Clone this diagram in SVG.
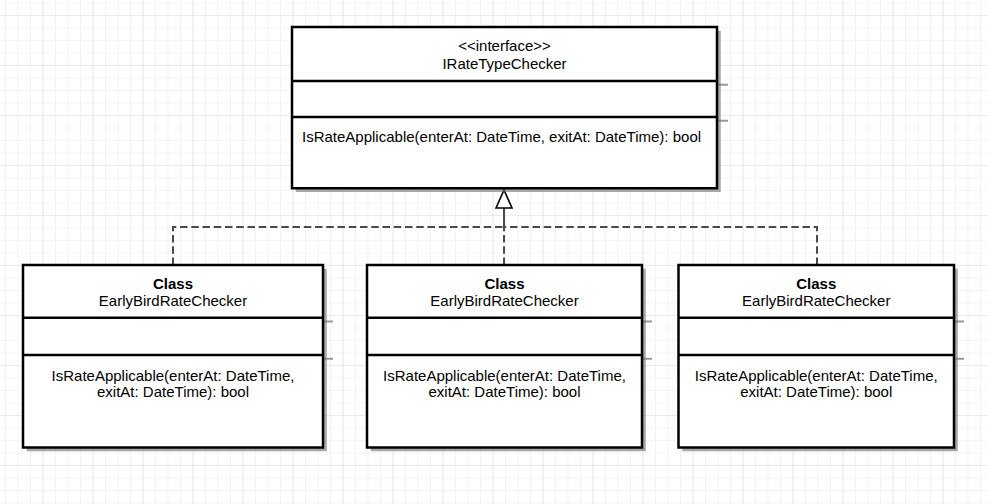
<svg xmlns="http://www.w3.org/2000/svg" width="988" height="504" viewBox="0 0 988 504">
  <defs>
    <pattern id="gridMinor" x="5" y="2.5" width="12.5" height="12.5" patternUnits="userSpaceOnUse">
      <path d="M0 0H12.5M0 0V12.5" fill="none" stroke="#ebe9fb" stroke-width="1.2"/>
    </pattern>
    <pattern id="gridMajor" x="42.5" y="15" width="50" height="50" patternUnits="userSpaceOnUse">
      <path d="M0 0H50M0 0V50" fill="none" stroke="#e1defa" stroke-width="1.2"/>
    </pattern>
    <filter id="soft" x="-5%" y="-5%" width="110%" height="110%">
      <feGaussianBlur stdDeviation="0.7"/>
    </filter>
    <marker id="realize" viewBox="0 0 20 18" refX="19" refY="9" markerWidth="20" markerHeight="18" markerUnits="userSpaceOnUse" orient="auto">
      <path d="M1 1L19 9L1 17Z" fill="#ffffff" stroke="#000000" stroke-width="1.6"/>
    </marker>
  </defs>
  <style>
    .box { fill: #ffffff; stroke: #000000; stroke-width: 2.5; }
    .div { stroke: #000000; stroke-width: 2.5; }
    .shadow { fill: #6e6e6e; opacity: 0.6; }
    .shline { stroke: #6e6e6e; stroke-width: 2; opacity: 0.7; }
    .t { font-family: "Liberation Sans", Arial, sans-serif; font-size: 15px; fill: #000000; }
    .c { text-anchor: middle; }
    .b { font-weight: bold; }
    .edge { fill: none; stroke: #4a4a4a; stroke-width: 2; stroke-dasharray: 7.5 3.75; }
  </style>

  <!-- background grid -->
  <rect width="988" height="504" fill="#ffffff"/>
  <rect width="988" height="504" fill="url(#gridMinor)"/>
  <rect width="988" height="504" fill="url(#gridMajor)"/>

  <!-- realization connectors -->
  <g id="connectors">
    <path class="edge" d="M173 265V227H504V190"/>
    <path class="edge" d="M504 265V190"/>
    <path class="edge" d="M817 265V227H504V190"/>
    <path d="M504 206V190" fill="none" stroke="#2a2a2a" stroke-width="2" marker-end="url(#realize)"/>
  </g>

  <!-- interface -->
  <g id="IRateTypeChecker">
    <g filter="url(#soft)">
      <rect class="shadow" x="295.75" y="30.75" width="425" height="161.25"/>
      <line class="shline" x1="717" y1="84.75" x2="728" y2="84.75"/>
      <line class="shline" x1="717" y1="120.75" x2="728" y2="120.75"/>
    </g>
    <rect class="box" x="292" y="27" width="425" height="161.25"/>
    <line class="div" x1="292" y1="81" x2="717" y2="81"/>
    <line class="div" x1="292" y1="117" x2="717" y2="117"/>
    <text class="t c" x="504.5" y="51">&lt;&lt;interface&gt;&gt;</text>
    <text class="t c" x="504.5" y="68.5">IRateTypeChecker</text>
    <text class="t" x="302" y="142">IsRateApplicable(enterAt: DateTime, exitAt: DateTime): bool</text>
  </g>

  <!-- left class -->
  <g id="EarlyBirdRateChecker1">
    <g filter="url(#soft)">
      <rect class="shadow" x="26.75" y="268.75" width="300" height="182.5"/>
      <line class="shline" x1="323" y1="321.5" x2="333" y2="321.5"/>
      <line class="shline" x1="323" y1="358.75" x2="333" y2="358.75"/>
    </g>
    <rect class="box" x="23" y="265" width="300" height="182.5"/>
    <line class="div" x1="23" y1="317.75" x2="323" y2="317.75"/>
    <line class="div" x1="23" y1="355" x2="323" y2="355"/>
    <text class="t c b" x="173" y="289">Class</text>
    <text class="t c" x="173" y="306">EarlyBirdRateChecker</text>
    <text class="t c" x="173" y="380.5">IsRateApplicable(enterAt: DateTime,</text>
    <text class="t c" x="173" y="397">exitAt: DateTime): bool</text>
  </g>

  <!-- middle class -->
  <g id="EarlyBirdRateChecker2">
    <g filter="url(#soft)">
      <rect class="shadow" x="370.75" y="268.75" width="275" height="182.5"/>
      <line class="shline" x1="642" y1="321.5" x2="652" y2="321.5"/>
      <line class="shline" x1="642" y1="358.75" x2="652" y2="358.75"/>
    </g>
    <rect class="box" x="367" y="265" width="275" height="182.5"/>
    <line class="div" x1="367" y1="317.75" x2="642" y2="317.75"/>
    <line class="div" x1="367" y1="355" x2="642" y2="355"/>
    <text class="t c b" x="504.5" y="289">Class</text>
    <text class="t c" x="504.5" y="306">EarlyBirdRateChecker</text>
    <text class="t c" x="504.5" y="380.5">IsRateApplicable(enterAt: DateTime,</text>
    <text class="t c" x="504.5" y="397">exitAt: DateTime): bool</text>
  </g>

  <!-- right class -->
  <g id="EarlyBirdRateChecker3">
    <g filter="url(#soft)">
      <rect class="shadow" x="682.25" y="268.75" width="275.5" height="182.5"/>
      <line class="shline" x1="954" y1="321.5" x2="964" y2="321.5"/>
      <line class="shline" x1="954" y1="358.75" x2="964" y2="358.75"/>
    </g>
    <rect class="box" x="678.5" y="265" width="275.5" height="182.5"/>
    <line class="div" x1="678.5" y1="317.75" x2="954" y2="317.75"/>
    <line class="div" x1="678.5" y1="355" x2="954" y2="355"/>
    <text class="t c b" x="816.25" y="289">Class</text>
    <text class="t c" x="816.25" y="306">EarlyBirdRateChecker</text>
    <text class="t c" x="816.25" y="380.5">IsRateApplicable(enterAt: DateTime,</text>
    <text class="t c" x="816.25" y="397">exitAt: DateTime): bool</text>
  </g>
</svg>
